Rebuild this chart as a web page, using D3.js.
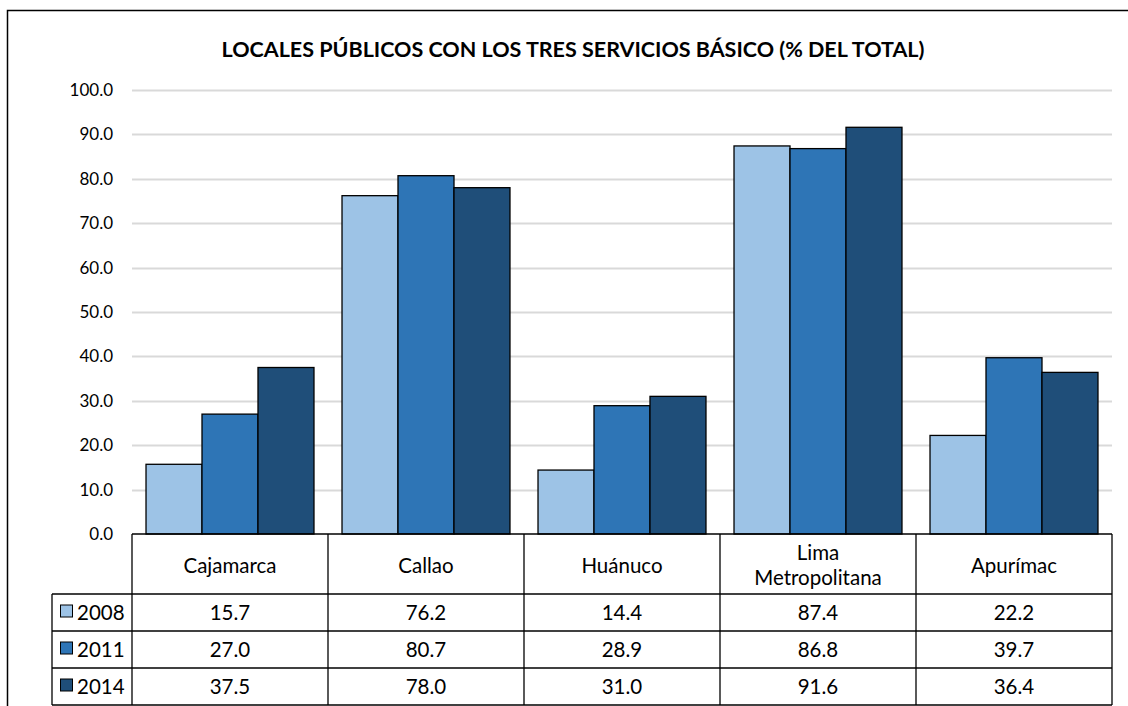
<!DOCTYPE html>
<html>
<head>
<meta charset="utf-8">
<script src="https://d3js.org/d3.v7.min.js"></script>
<style>
  body { margin: 0; background: #fff; }
  text { font-family: "Lato", "Open Sans", sans-serif; fill: #000; }
</style>
</head>
<body>
<script>
  // data
  var categories = ["Cajamarca", "Callao", "Huánuco", "Lima Metropolitana", "Apurímac"];
  var years = ["2008", "2011", "2014"];
  var v2008 = [15.7, 76.2, 14.4, 87.4, 22.2];
  var v2011 = [27.0, 80.7, 28.9, 86.8, 39.7];
  var v2014 = [37.5, 78.0, 31.0, 91.6, 36.4];
  var yTicks = [0, 10, 20, 30, 40, 50, 60, 70, 80, 90, 100];
  var series = [v2008, v2011, v2014];

  var width = 1128, height = 706;
  var plotL = 132, plotR = 1112, plotT = 90, plotB = 534;

  var svg = d3.select("body").append("svg")
      .attr("width", width)
      .attr("height", height);

  // outer frame (right and bottom run off the picture)
  svg.append("rect")
      .attr("x", 7.5).attr("y", 10.5)
      .attr("width", 1140).attr("height", 720)
      .attr("fill", "none").attr("stroke", "#000").attr("stroke-width", 1.5);

  svg.append("text")
      .attr("x", 573).attr("y", 57)
      .attr("text-anchor", "middle")
      .style("font-size", "21.5px").style("font-weight", "bold")
      .text("LOCALES PÚBLICOS CON LOS TRES SERVICIOS BÁSICO (% DEL TOTAL)");

  var x = d3.scaleBand().domain(categories).range([plotL, plotR]).paddingInner(0.143).paddingOuter(0.0715);
  var xCol = d3.scaleBand().domain(categories).range([plotL, plotR]);
  var xs = d3.scaleBand().domain(years).range([0, x.bandwidth()]);
  var y = d3.scaleLinear().domain([0, 100]).range([plotB, plotT]);
  var color = d3.scaleOrdinal().domain(years).range(["#9dc3e6", "#2e75b6", "#1f4e79"]);

  // grid
  svg.append("g").selectAll("line")
      .data(yTicks.slice(1))
      .enter().append("line")
      .attr("x1", plotL).attr("x2", plotR)
      .attr("y1", function(d) { return Math.round(y(d)) + 0.5; })
      .attr("y2", function(d) { return Math.round(y(d)) + 0.5; })
      .attr("stroke", "#d9d9d9").attr("stroke-width", 2);

  // y axis labels
  var yAxis = d3.axisLeft(y).tickValues(yTicks).tickFormat(d3.format(".1f")).tickSize(0).tickPadding(19);
  var ya = svg.append("g").attr("transform", "translate(" + plotL + ",0)").call(yAxis);
  ya.select(".domain").remove();
  ya.selectAll("text").style("font-size", "17px").style("font-family", "Lato, sans-serif").attr("fill", "#000");

  // bars
  var groups = svg.append("g").selectAll("g")
      .data(categories)
      .enter().append("g")
      .attr("transform", function(d) { return "translate(" + x(d) + ",0)"; });

  groups.selectAll("rect")
      .data(function(d, i) { return years.map(function(yr, j) { return { year: yr, value: series[j][i] }; }); })
      .enter().append("rect")
      .attr("x", function(d) { return xs(d.year); })
      .attr("y", function(d) { return y(d.value); })
      .attr("width", xs.bandwidth())
      .attr("height", function(d) { return plotB - y(d.value); })
      .attr("fill", function(d) { return color(d.year); })
      .attr("stroke", "#000").attr("stroke-width", 1.3);

  // data table
  var headTop = plotB, headBot = 594, rowH = 37;
  var legLeft = 52;
  var tbl = svg.append("g").attr("fill", "none").attr("stroke", "#000").attr("stroke-width", 1.3);

  tbl.append("line").attr("x1", plotL).attr("x2", plotR).attr("y1", headTop).attr("y2", headTop);
  xCol.domain().forEach(function(c) {
    tbl.append("line").attr("x1", xCol(c)).attr("x2", xCol(c)).attr("y1", headTop).attr("y2", headBot + rowH * 3);
  });
  tbl.append("line").attr("x1", plotR).attr("x2", plotR).attr("y1", headTop).attr("y2", headBot + rowH * 3);
  tbl.append("line").attr("x1", legLeft).attr("x2", legLeft).attr("y1", headBot).attr("y2", headBot + rowH * 3);
  d3.range(4).forEach(function(i) {
    tbl.append("line").attr("x1", legLeft).attr("x2", plotR)
      .attr("y1", headBot + rowH * i).attr("y2", headBot + rowH * i);
  });

  // header labels
  var head = svg.append("g").selectAll("text")
      .data(categories)
      .enter().append("text")
      .attr("text-anchor", "middle")
      .style("font-size", "20.5px")
      .attr("x", function(d) { return xCol(d) + xCol.bandwidth() / 2; });
  head.each(function(d) {
    var words = d.split(" ");
    var t = d3.select(this);
    var cx = xCol(d) + xCol.bandwidth() / 2;
    if (words.length > 1) {
      t.append("tspan").attr("x", cx).attr("y", 560).text(words[0]);
      t.append("tspan").attr("x", cx).attr("y", 585).text(words.slice(1).join(" "));
    } else {
      t.attr("y", 573).text(d);
    }
  });

  // rows
  years.forEach(function(yr, j) {
    var cy = headBot + rowH * j + rowH / 2;
    svg.append("rect")
      .attr("x", 60.5).attr("y", cy - 7.5)
      .attr("width", 12).attr("height", 12)
      .attr("fill", color(yr)).attr("stroke", "#000").attr("stroke-width", 1);
    svg.append("text")
      .attr("x", 77).attr("y", cy + 7.5)
      .style("font-size", "20.5px")
      .text(yr);
    svg.append("g").selectAll("text")
      .data(series[j])
      .enter().append("text")
      .attr("text-anchor", "middle")
      .attr("x", function(d, i) { return xCol(categories[i]) + xCol.bandwidth() / 2; })
      .attr("y", cy + 7.5)
      .style("font-size", "20.5px")
      .text(function(d) { return d3.format(".1f")(d); });
  });
</script>
</body>
</html>
